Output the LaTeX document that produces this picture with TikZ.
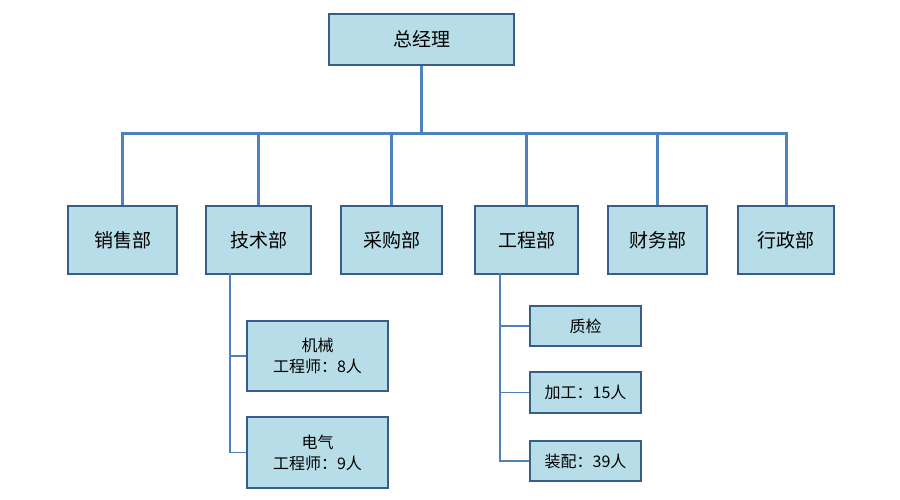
\documentclass[tikz,border=0pt]{standalone}
\usepackage{fontspec}
\setmainfont{Noto Sans CJK SC}
\begin{document}
\begin{tikzpicture}[x=1pt,y=-1pt,
  box/.style={draw=boxborder,fill=boxfill,line width=2pt,inner sep=0pt,anchor=north west,align=center},
  mainline/.style={draw=linecol,line width=3pt},
  subline/.style={draw=linecol,line width=1.4pt}]
\definecolor{boxfill}{HTML}{B7DDE8}
\definecolor{boxborder}{HTML}{385D8A}
\definecolor{linecol}{HTML}{4F81BD}
\useasboundingbox (0,0) rectangle (900,500);
\tikzset{every node/.append style={font=\fontsize{19}{23}\selectfont}}
\node[box,minimum width=185pt,minimum height=51pt] (gm) at (328,13) {总经理};
\node[box,minimum width=109pt,minimum height=68pt] (d1) at (67,205) {销售部};
\node[box,minimum width=105pt,minimum height=68pt] (d2) at (205,205) {技术部};
\node[box,minimum width=101pt,minimum height=68pt] (d3) at (340,205) {采购部};
\node[box,minimum width=103pt,minimum height=68pt] (d4) at (474,205) {工程部};
\node[box,minimum width=99pt,minimum height=68pt] (d5) at (607,205) {财务部};
\node[box,minimum width=96pt,minimum height=68pt] (d6) at (737,205) {行政部};
\begin{scope}[every node/.append style={font=\fontsize{16}{21}\selectfont}]
\node[box,minimum width=141pt,minimum height=70pt] (t1) at (246,320) {机械\\工程师：8人};
\node[box,minimum width=141pt,minimum height=71pt] (t2) at (246,416) {电气\\工程师：9人};
\node[box,minimum width=111pt,minimum height=40pt] (e1) at (529,305) {质检};
\node[box,minimum width=111pt,minimum height=41pt] (e2) at (529,371) {加工：15人};
\node[box,minimum width=111pt,minimum height=40pt] (e3) at (529,440) {装配：39人};
\end{scope}
\coordinate (bus) at (420,134);
\draw[mainline] (gm.south) -- (gm.south |- bus);
\draw[mainline] (d1.north) |- (bus) -| (d6.north);
\foreach \d in {d2,d3,d4,d5}{
  \draw[mainline] (\d.north |- bus) -- (\d.north);
}
\coordinate (tb) at (230,273);
\draw[subline] (tb) |- (t2.west);
\draw[subline] (tb |- t1.west) -- (t1.west);
\coordinate (eb) at (500,273);
\draw[subline] (eb) |- (e3.west);
\draw[subline] (eb |- e1.west) -- (e1.west);
\draw[subline] (eb |- e2.west) -- (e2.west);
\end{tikzpicture}
\end{document}
